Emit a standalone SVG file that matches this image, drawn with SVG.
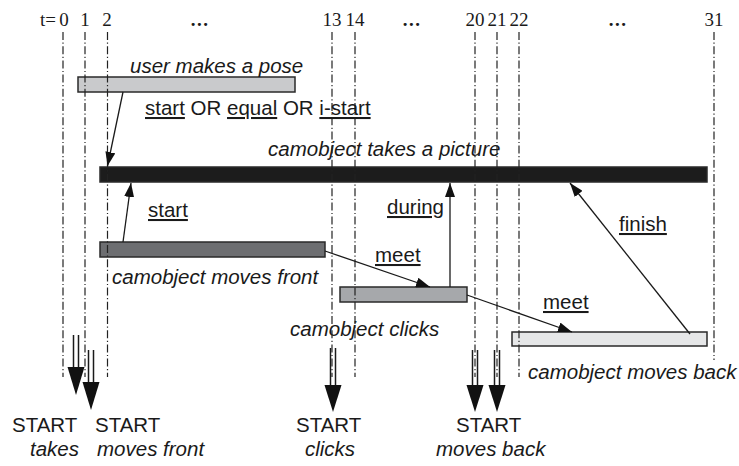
<svg xmlns="http://www.w3.org/2000/svg" width="739" height="466" viewBox="0 0 739 466">
  <style>
    .lbl { font-family: "Liberation Sans", Arial, sans-serif; font-size: 20.5px; fill: #1a1a1a; }
    .it { font-style: italic; }
    .u { text-decoration: underline; }
    .num { font-family: "Liberation Serif", "Times New Roman", serif; font-size: 19px; fill: #1a1a1a; text-anchor: middle; }
    .bar { stroke: #2a2a2a; stroke-width: 1.5; }
    .grid { stroke: #222; stroke-width: 1.2; stroke-dasharray: 8 2.5 1.2 2.5; fill: none; }
    .conn { stroke: #1a1a1a; stroke-width: 1.3; fill: none; marker-end: url(#tip); }
    .shaft { stroke: #1a1a1a; stroke-width: 1.5; fill: none; }
    .head { fill: #111; }
  </style>
  <defs>
    <marker id="tip" viewBox="0 0 14 10" refX="14" refY="5" markerWidth="14" markerHeight="10" markerUnits="userSpaceOnUse" orient="auto">
      <path d="M0,0 L14,5 L0,10 z" fill="#111"/>
    </marker>
  </defs>
  <rect width="739" height="466" fill="#ffffff"/>

  <!-- interval bars -->
  <g id="user-makes-a-pose">
    <rect class="bar" x="78" y="77" width="217" height="15" fill="#c9cacc"/>
    <text class="lbl it" x="130" y="73">user makes a pose</text>
  </g>
  <g id="camobject-takes-a-picture">
    <rect class="bar" x="100" y="167" width="607" height="15" fill="#1c1c1c"/>
    <text class="lbl it" x="268" y="156">camobject takes a picture</text>
  </g>
  <g id="camobject-moves-front">
    <rect class="bar" x="100" y="242" width="225" height="15" fill="#6d6e71"/>
    <text class="lbl it" x="112" y="284">camobject moves front</text>
  </g>
  <g id="camobject-clicks">
    <rect class="bar" x="340" y="287" width="127" height="15" fill="#a6a8ab"/>
    <text class="lbl it" x="290" y="336">camobject clicks</text>
  </g>
  <g id="camobject-moves-back">
    <rect class="bar" x="512" y="332" width="195" height="14" fill="#e6e7e8"/>
    <text class="lbl it" x="528" y="379">camobject moves back</text>
  </g>

  <!-- time axis -->
  <g id="timeline">
    <text class="num" x="48" y="26">t=</text>
    <text class="num" x="64" y="26">0</text>
    <text class="num" x="85" y="26">1</text>
    <text class="num" x="107" y="26">2</text>
    <text class="num" x="200" y="26" font-weight="bold" letter-spacing="1.5">...</text>
    <text class="num" x="332" y="26">13</text>
    <text class="num" x="355" y="26">14</text>
    <text class="num" x="412" y="26" font-weight="bold" letter-spacing="1.5">...</text>
    <text class="num" x="475" y="26">20</text>
    <text class="num" x="497" y="26">21</text>
    <text class="num" x="519" y="26">22</text>
    <text class="num" x="618" y="26" font-weight="bold" letter-spacing="1.5">...</text>
    <text class="num" x="714" y="26">31</text>
    <line class="grid" x1="63" y1="32" x2="63" y2="377"/>
    <line class="grid" x1="85" y1="32" x2="85" y2="377"/>
    <line class="grid" x1="107.5" y1="32" x2="107.5" y2="377"/>
    <line class="grid" x1="332" y1="32" x2="332" y2="377"/>
    <line class="grid" x1="355" y1="32" x2="355" y2="377"/>
    <line class="grid" x1="475" y1="32" x2="475" y2="377"/>
    <line class="grid" x1="497" y1="32" x2="497" y2="377"/>
    <line class="grid" x1="519" y1="32" x2="519" y2="377"/>
    <line class="grid" x1="714" y1="32" x2="714" y2="360"/>
  </g>

  <!-- relations between intervals -->
  <g id="connectors">
    <line class="conn" x1="123" y1="92" x2="107.5" y2="166"/>
    <line class="conn" x1="123" y1="242" x2="131" y2="183"/>
    <line class="conn" x1="325" y1="251" x2="430" y2="287"/>
    <line class="conn" x1="450" y1="287" x2="450" y2="183"/>
    <line class="conn" x1="467" y1="295" x2="572" y2="332"/>
    <line class="conn" x1="690" y1="334" x2="570" y2="183"/>
    <text class="lbl" x="145" y="115"><tspan class="u">start</tspan> OR <tspan class="u">equal</tspan> OR <tspan class="u">i-start</tspan></text>
    <text class="lbl u" x="148" y="217">start</text>
    <text class="lbl u" x="387" y="214">during</text>
    <text class="lbl u" x="375" y="262">meet</text>
    <text class="lbl u" x="543" y="309">meet</text>
    <text class="lbl u" x="619" y="231">finish</text>
  </g>

  <!-- START events -->
  <g id="start-takes">
    <line class="shaft" x1="73.5" y1="335" x2="73.5" y2="368"/>
    <line class="shaft" x1="78.5" y1="335" x2="78.5" y2="368"/>
    <polygon class="head" points="67.5,367 84.5,367 76,395"/>
    <text class="lbl" x="12" y="432">START</text>
    <text class="lbl it" x="30" y="456">takes</text>
  </g>
  <g id="start-moves-front">
    <line class="shaft" x1="88.5" y1="350" x2="88.5" y2="383"/>
    <line class="shaft" x1="93.5" y1="350" x2="93.5" y2="383"/>
    <polygon class="head" points="82.5,382 99.5,382 91,410"/>
    <text class="lbl" x="95" y="432">START</text>
    <text class="lbl it" x="97" y="456">moves front</text>
  </g>
  <g id="start-clicks">
    <line class="shaft" x1="330.5" y1="348" x2="330.5" y2="386"/>
    <line class="shaft" x1="335.5" y1="348" x2="335.5" y2="386"/>
    <polygon class="head" points="324.5,385 341.5,385 333,412"/>
    <text class="lbl" x="296" y="432">START</text>
    <text class="lbl it" x="305" y="456">clicks</text>
  </g>
  <g id="start-moves-back">
    <line class="shaft" x1="472.5" y1="350" x2="472.5" y2="386"/>
    <line class="shaft" x1="477.5" y1="350" x2="477.5" y2="386"/>
    <polygon class="head" points="466.5,385 483.5,385 475,412"/>
    <line class="shaft" x1="494.5" y1="350" x2="494.5" y2="386"/>
    <line class="shaft" x1="499.5" y1="350" x2="499.5" y2="386"/>
    <polygon class="head" points="488.5,385 505.5,385 497,412"/>
    <text class="lbl" x="456" y="432">START</text>
    <text class="lbl it" x="436" y="456">moves back</text>
  </g>
</svg>
